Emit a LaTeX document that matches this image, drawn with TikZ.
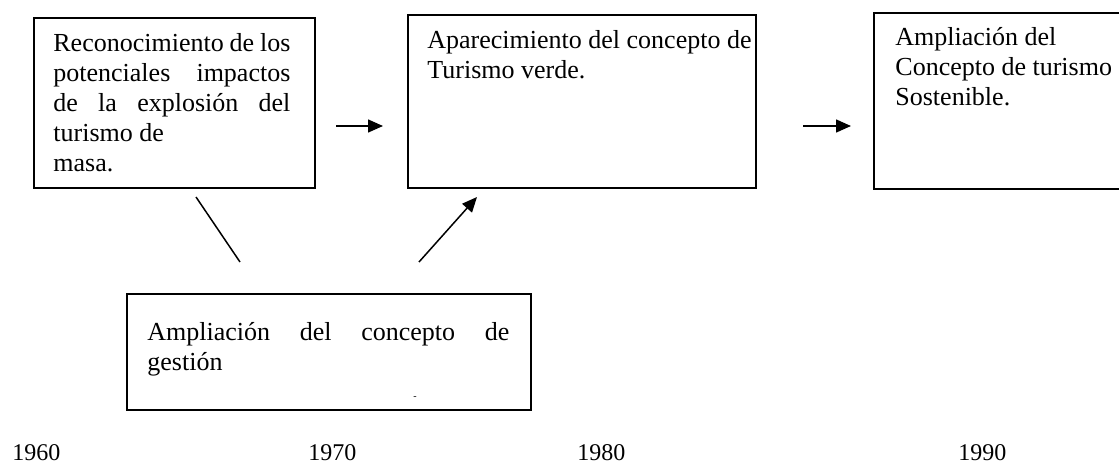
\documentclass[tikz,border=0pt]{standalone}
\usepackage{fontspec}
\setmainfont{Liberation Serif}
\usetikzlibrary{arrows.meta}
\begin{document}
\begin{tikzpicture}[x=0.5pt,y=-0.5pt,
  box/.style={draw, line width=1pt, rectangle, inner sep=0pt, anchor=north west},
  txt/.style={font=\fontsize{13}{15}\selectfont, inner sep=0pt, anchor=base west, align=left},
  conn/.style={line width=0.75pt},
  arr/.style={conn, -{Triangle[length=7.5pt,width=6.5pt]}},
  year/.style={font=\fontsize{12}{14}\selectfont, inner sep=0pt, anchor=base west}]
\useasboundingbox (0,0) rectangle (1119,465);
\clip (0,0) rectangle (1119,465);
% boxes
\node[box, minimum width=140.5pt, minimum height=85pt] (b1) at (33,17) {};
\node[box, minimum width=174pt, minimum height=86.5pt] (b2) at (407,14) {};
\node[box, minimum width=150pt, minimum height=88pt] (b3) at (873,12) {};
\node[box, minimum width=202pt, minimum height=58pt] (b4) at (126,293) {};
% texts (anchor = baseline of the last line)
\node[txt] (t1) at (53,171) {\makebox[118.5pt][s]{Reconocimiento de los}\\
\makebox[118.5pt][s]{potenciales impactos}\\
\makebox[118.5pt][s]{de la explosión del}\\
turismo de\\
masa.};
\node[txt] (t2) at (427,79) {Aparecimiento del concepto de\\Turismo verde.};
\node[txt] (t3) at (895,105) {Ampliación del\\Concepto de turismo\\Sostenible.};
\node[txt] (t4) at (147,370) {\makebox[181pt][s]{Ampliación del concepto de}\\gestión};
\node[font=\fontsize{5}{5}\selectfont, inner sep=0pt] (mark) at (415,398) {-};
% years
\node[year] (y1) at (12,460) {1960};
\node[year] (y2) at (308,460) {1970};
\node[year] (y3) at (577,460) {1980};
\node[year] (y4) at (958,460) {1990};
% connectors
\coordinate (a1s) at (336,126);
\coordinate (a1e) at (383,126);
\coordinate (a2s) at (803,126);
\coordinate (a2e) at (851,126);
\coordinate (l1s) at (196,197);
\coordinate (l1e) at (240,262);
\coordinate (a3s) at (419,262);
\coordinate (a3e) at (477,197);
\draw[arr] (a1s) -- (a1e);
\draw[arr] (a2s) -- (a2e);
\draw[conn] (l1s) -- (l1e);
\draw[arr] (a3s) -- (a3e);
\end{tikzpicture}
\end{document}
